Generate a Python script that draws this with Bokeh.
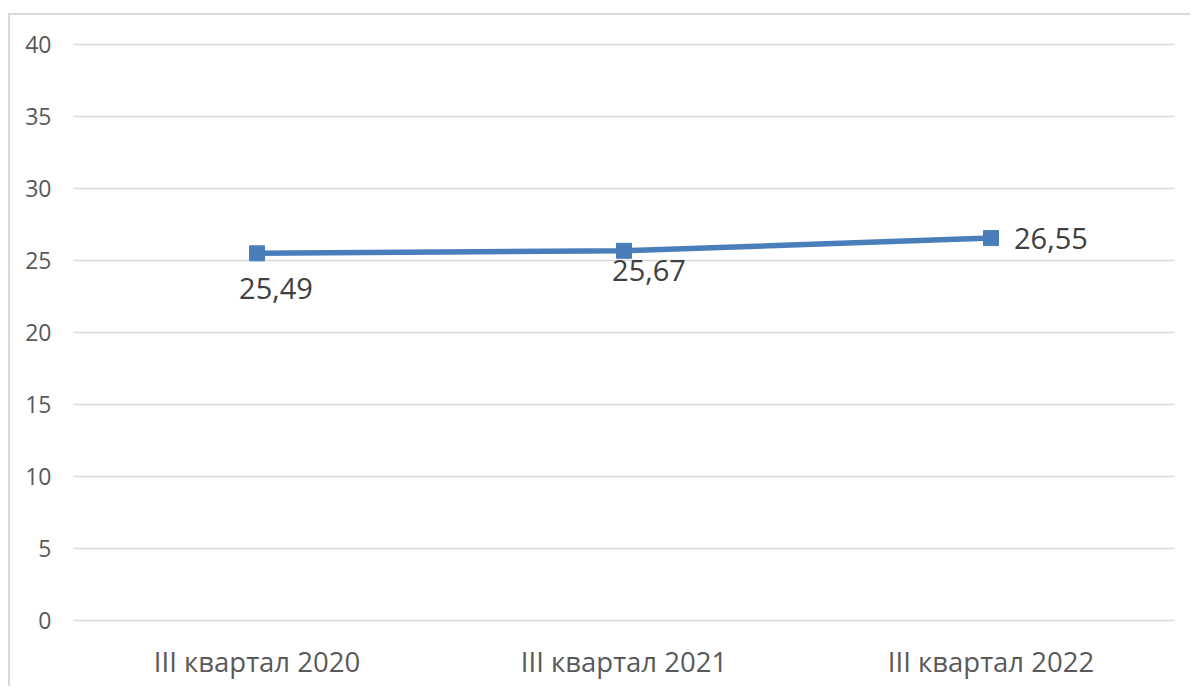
from bokeh.plotting import figure
from bokeh.models import ColumnDataSource, FixedTicker, Range1d, FactorRange
from bokeh.core.properties import value
from bokeh.embed import file_html
from bokeh.resources import INLINE

categories = ["III квартал 2020", "III квартал 2021", "III квартал 2022"]
values = [25.49, 25.67, 26.55]
labels = ["25,49", "25,67", "26,55"]
y_ticks = [0, 5, 10, 15, 20, 25, 30, 35, 40]

FONT = "Open Sans"
BLUE = "#4a7ebb"
GRID = "#d9d9d9"
TXT = "#595959"

src = ColumnDataSource(dict(x=categories, y=values, lab=labels))

p = figure(width=1182, height=673, x_range=FactorRange(*categories, range_padding=0),
           y_range=Range1d(0, 40.2), output_backend="svg", toolbar_location=None,
           min_border_left=63, min_border_right=18, min_border_top=26, min_border_bottom=68)
p.x_range.factor_padding = 0
p.outline_line_color = None
p.background_fill_color = "white"
p.border_fill_color = "white"

p.xgrid.grid_line_color = None
p.ygrid.grid_line_color = GRID
p.ygrid.grid_line_width = 1.5
p.yaxis.ticker = FixedTicker(ticks=y_ticks)
p.yaxis.axis_line_color = None
p.yaxis.major_tick_line_color = None
p.yaxis.minor_tick_line_color = None
p.yaxis.major_label_text_font = FONT
p.yaxis.major_label_text_font_size = "23px"
p.yaxis.major_label_text_color = TXT
p.yaxis.major_label_standoff = 16

p.xaxis.axis_line_color = GRID
p.xaxis.axis_line_width = 1.5
p.xaxis.major_tick_line_color = None
p.xaxis.minor_tick_line_color = None
p.xaxis.major_label_text_font = FONT
p.xaxis.major_label_text_font_size = "27.5px"
p.xaxis.major_label_text_color = TXT
p.xaxis.major_label_standoff = 16

p.line("x", "y", source=src, line_color=BLUE, line_width=5.5)
p.scatter("x", "y", source=src, marker="square", size=15, fill_color=BLUE, line_color=BLUE)

offsets = [(19, 35, "center"), (25, 20, "center"), (23, 0, "left")]
for i, (dx, dy, al) in enumerate(offsets):
    s = ColumnDataSource(dict(x=[categories[i]], y=[values[i]], t=[labels[i]]))
    p.text("x", "y", text="t", source=s, x_offset=dx, y_offset=dy, text_align=al,
           text_baseline="middle", text_font=value(FONT), text_font_size="29px",
           text_color="#404040")

p.styles = {"margin-left": "8px", "margin-top": "13px",
            "border-top": "2px solid #d9d9d9", "border-left": "2px solid #d9d9d9"}

open("out.html", "w").write(file_html(p, INLINE))
